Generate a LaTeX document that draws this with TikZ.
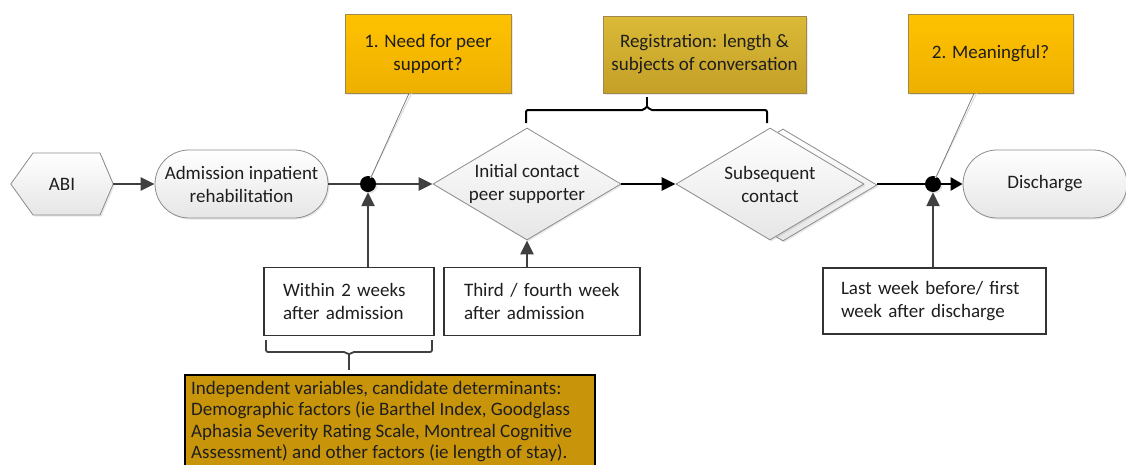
\documentclass[tikz,border=0pt]{standalone}
\usepackage{fontspec}
\setmainfont{Carlito}
\usetikzlibrary{shapes.geometric,arrows.meta,shadows,calc}
\definecolor{callY}{RGB}{255,194,0}
\definecolor{callYb}{RGB}{238,176,0}
\definecolor{callEdge}{RGB}{160,135,75}
\definecolor{regT}{RGB}{218,186,55}
\definecolor{regB}{RGB}{196,160,40}
\definecolor{botF}{RGB}{200,148,10}
\definecolor{shpEdge}{RGB}{140,140,140}
\definecolor{shpFill}{RGB}{230,230,230}
\definecolor{arrGray}{RGB}{64,64,64}
\definecolor{txt}{RGB}{30,30,30}
\newcommand{\fs}{\fontsize{19}{23}\selectfont}
\begin{document}
\begin{tikzpicture}[x=1pt,y=-1pt,font=\fs,text=txt,
  softshadow/.style={drop shadow={shadow xshift=1.5pt,shadow yshift=-1.5pt,opacity=0.18}},
  shp/.style={draw=shpEdge,line width=0.8pt,top color=white,bottom color=shpFill,softshadow},
  pill/.style={shp,rectangle,rounded corners=34pt,minimum height=68pt,inner sep=0pt,align=center},
  dia/.style={shp,diamond,aspect=1.68,minimum width=188pt,minimum height=112pt,inner sep=0pt,align=center},
  callout/.style={rectangle,draw=callEdge,line width=0.8pt,top color=callY,bottom color=callYb,minimum height=79pt,inner sep=0pt,align=center,softshadow},
  regbox/.style={callout,top color=regT,bottom color=regB,minimum height=77pt},
  timebox/.style={rectangle,draw=black!80,line width=1.2pt,fill=white,align=left,minimum height=68pt,inner ysep=0pt},
  botbox/.style={draw=black,line width=2pt,fill=botF},
  bottext/.style={align=left,inner xsep=6pt,inner ysep=6pt,font=\fontsize{19}{21.5}\selectfont},
  dot/.style={circle,fill=black,minimum size=16pt,inner sep=0pt,softshadow},
  garrow/.style={draw=arrGray,line width=2.4pt,-{Triangle[length=14pt,width=13pt]}},
  barrow/.style={draw=black,line width=2.4pt,-{Triangle[length=14pt,width=13pt]}},
  gline/.style={draw=arrGray,line width=2.4pt},
  bline/.style={draw=black,line width=2.4pt},
  cline/.style={draw=black!55,line width=0.7pt},
  cshadow/.style={draw=black!12,line width=1.2pt},
  brace/.style={draw=black,line width=2pt,rounded corners=2pt},
  bracegray/.style={draw=arrGray,line width=1.8pt,rounded corners=2pt}]
\clip (0,0) rectangle (1126,464);
% ABI hexagon
\node[minimum width=102pt,minimum height=62pt,inner sep=0pt] (abi) at (62,184) {};
\path[shp] (abi.west) -- (33,153) -- (100,153) -- (abi.east) -- (100,215) -- (33,215) -- cycle;
\node at (abi) {ABI};
% main flow
\node[pill,minimum width=173pt] (adm) at (241.5,184) {Admission inpatient\\rehabilitation};
\node[dot] (dot1) at (368,184) {};
\node[dia] (d1) at (527,184) {Initial contact\\peer supporter};
\node[dia] (d2b) at (783,185) {};
\node[dia] (d2) at (770,184) {Subsequent\\contact};
\node[dot] (dot2) at (933,184) {};
\node[pill,minimum width=164pt] (dis) at (1045,184) {Discharge};
% callouts
\node[callout,minimum width=166pt] (c1) at (428,53.5) {1. Need for peer\\support?};
\node[regbox,minimum width=203pt] (reg) at (704.5,54.5) {Registration: length \&\\subjects of conversation};
\node[callout,minimum width=165pt] (c2) at (990.5,53.5) {2. Meaningful?};
% time boxes
\node[timebox,text width=132pt,inner xsep=19pt] (w1) at (349,301.5) {Within 2 weeks\\after admission};
\node[timebox,text width=156pt,inner xsep=20pt] (w2) at (542,301.5) {Third / fourth week\\after admission};
\node[timebox,text width=187pt,inner xsep=18pt,minimum height=66pt] (w3) at (934.5,301) {Last week before/ first\\week after discharge};
% bottom box (runs past the lower edge)
\path[botbox] (185,375) rectangle (595,480);
\node[bottext,anchor=north west] (bot) at (185,375)
 {Independent variables, candidate determinants:\\Demographic factors (ie Barthel Index, Goodglass\\Aphasia Severity Rating Scale, Montreal Cognitive\\Assessment) and other factors (ie length of stay).};
% connectors
\draw[garrow] (abi.east) -- (adm.west);
\draw[gline] (adm.east) -- (dot1);
\draw[garrow] (dot1) -- (d1.west);
\draw[barrow] (d1.east) -- (d2.west);
\draw[bline] (d2b.east |- dot2) -- (dot2);
\draw[barrow,-{Triangle[length=12pt,width=13pt]}] (dot2) -- (dis.west);
\draw[garrow] (w1.north -| dot1) -- (dot1);
\draw[garrow] (w2.north -| d1) -- (d1.south);
\draw[garrow] (w3.north -| dot2) -- (dot2);
% callout lines
\draw[cshadow] ($(c1.south)+(-16.5,0)$) -- ($(dot1)+(2.5,-6)$);
\draw[cline] ($(c1.south)+(-19,0)$) -- (dot1);
\draw[cshadow] ($(c2.south)+(-14,0)$) -- ($(dot2)+(2.5,-6)$);
\draw[cline] ($(c2.south)+(-16.5,0)$) -- (dot2);
% braces
\draw[brace] (526,123) -- (526,110) -- (644,110) -- (647,106) -- (650,110) -- (767,110) -- (767,123);
\draw[brace] (647,107) -- (647,97);
\draw[bracegray] (266,340) -- (266,352) -- (346,352) -- (349,355) -- (352,352) -- (432,352) -- (432,340);
\draw[bracegray] (349,354) -- (349,370);
\end{tikzpicture}
\end{document}
